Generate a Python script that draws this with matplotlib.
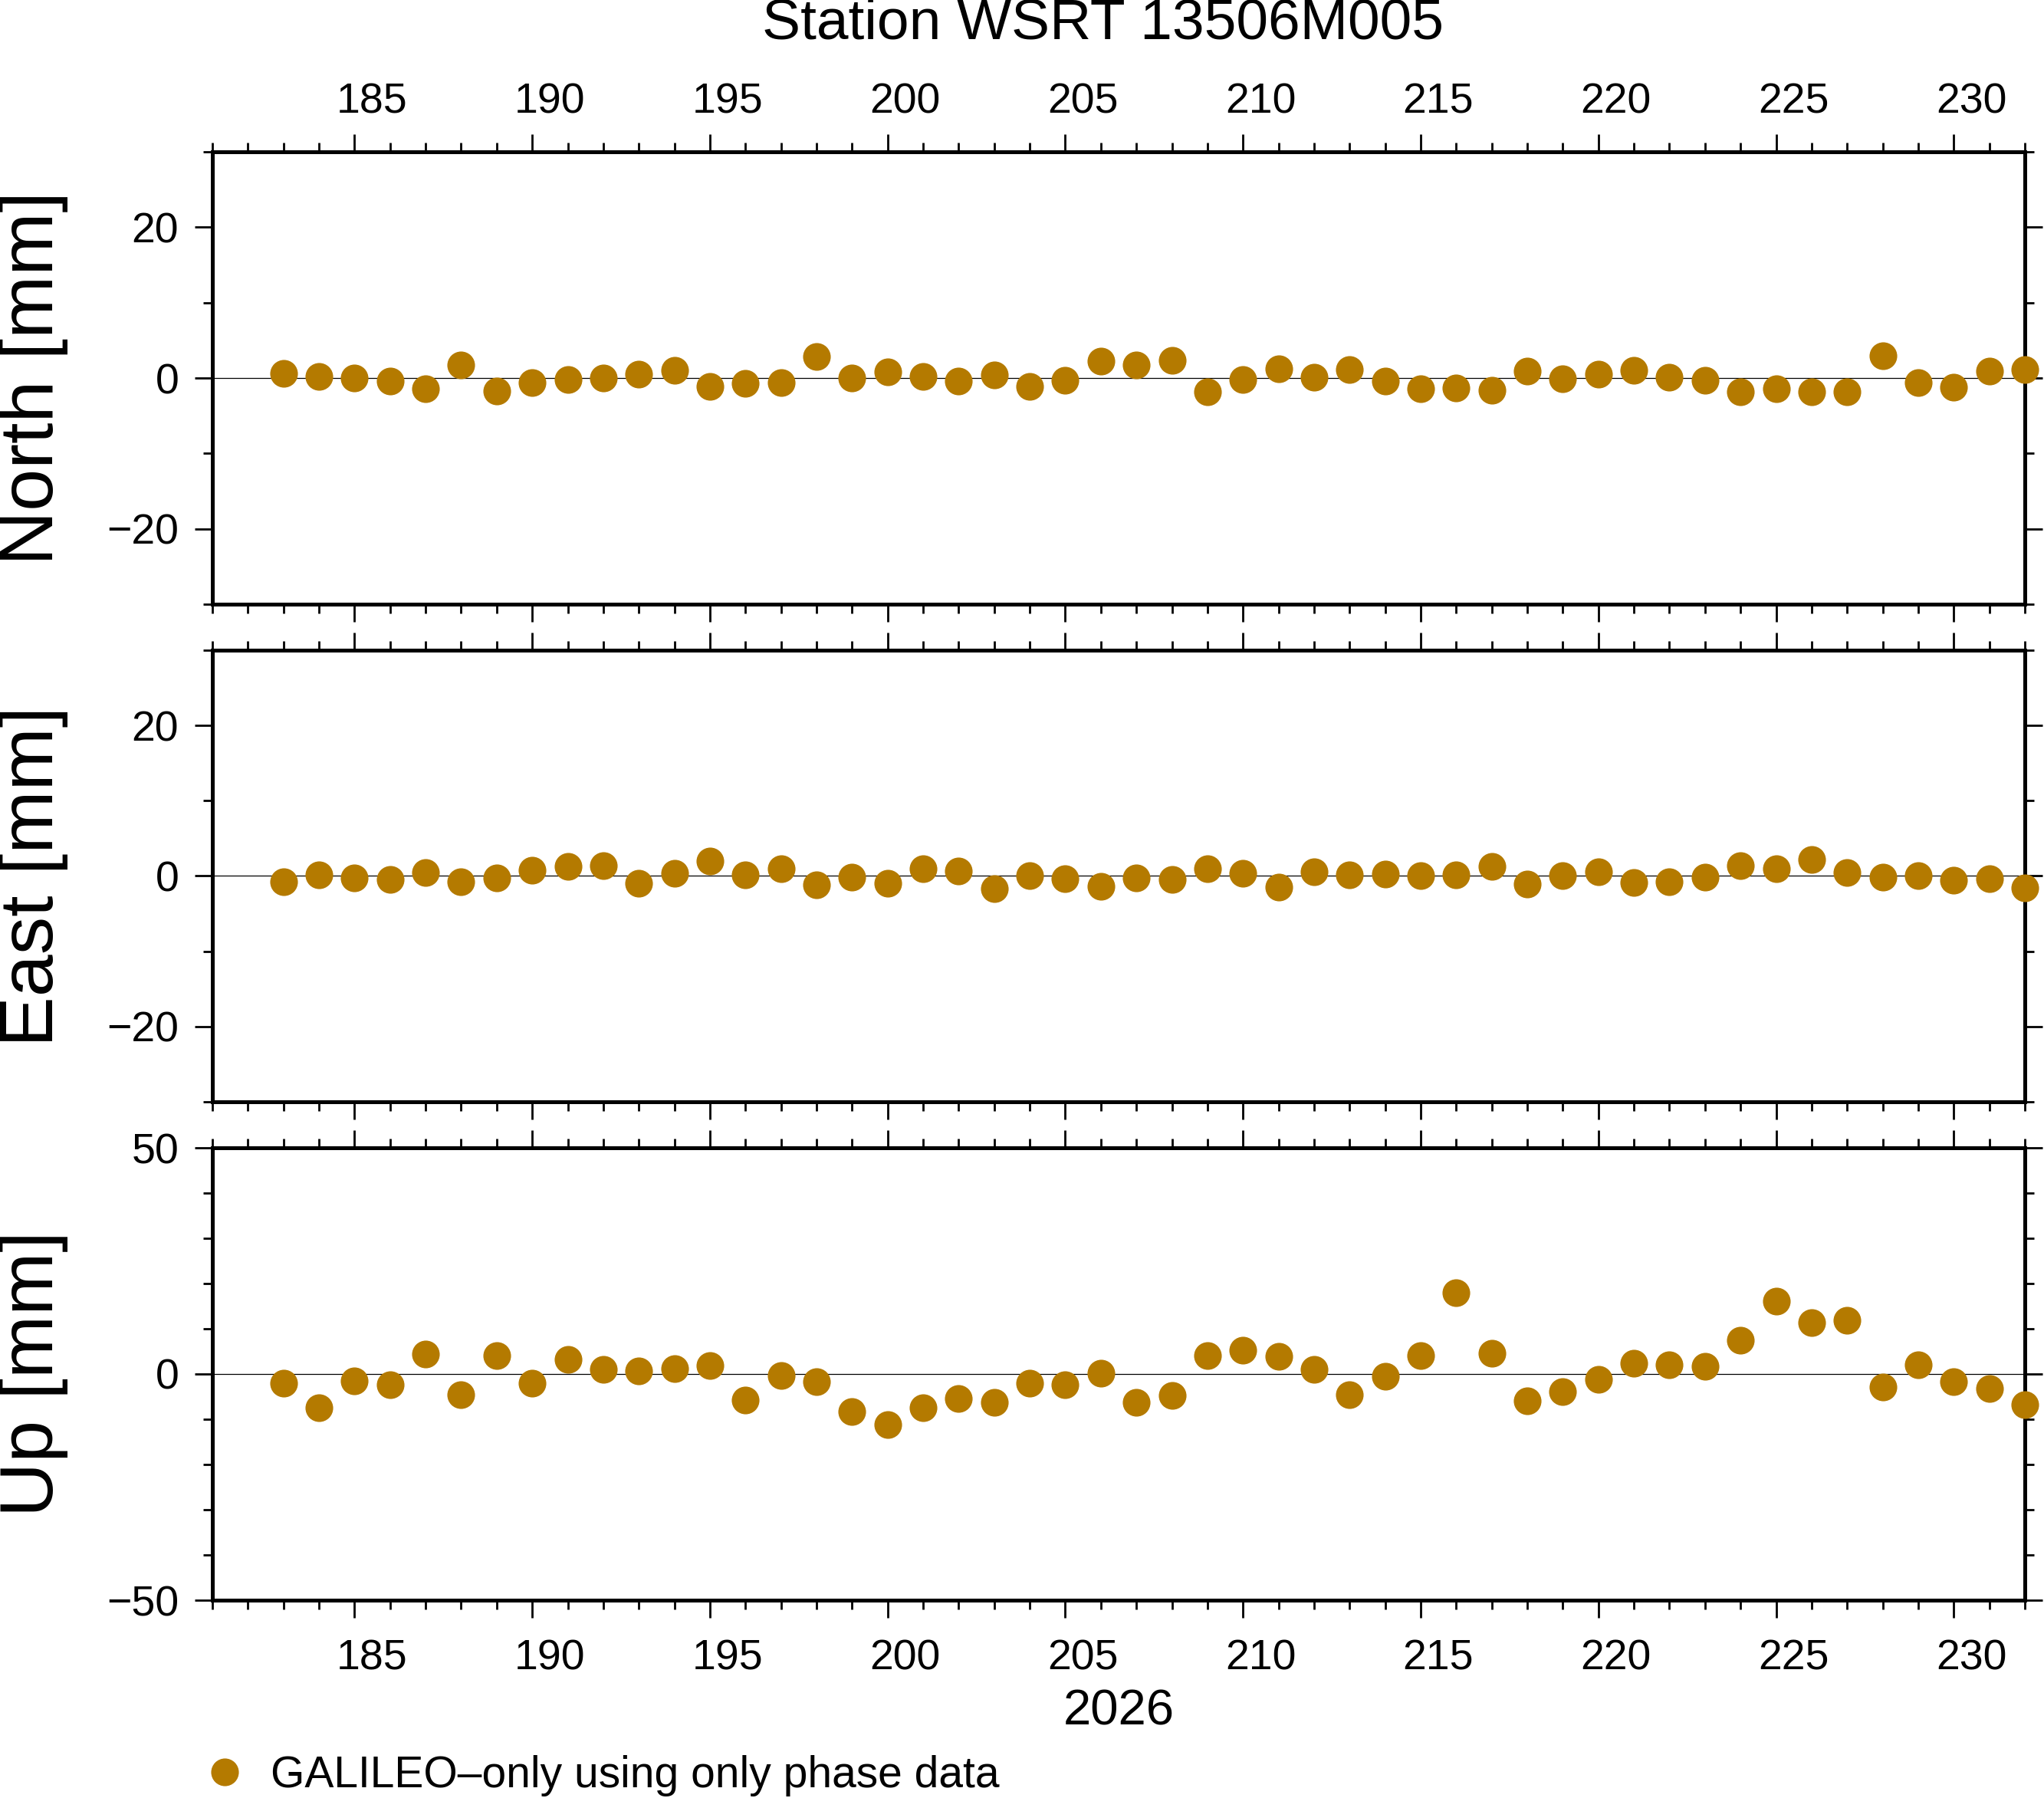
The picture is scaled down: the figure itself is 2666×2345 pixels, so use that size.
import numpy as np
import matplotlib
matplotlib.use("Agg")
import matplotlib.pyplot as plt
import matplotlib.transforms as mtransforms
from matplotlib.lines import Line2D
from matplotlib.ticker import MultipleLocator

plt.rcParams["font.family"] = ["Liberation Sans", "DejaVu Sans"]

# gün (day of year, 2026)
days = np.arange(183, 233)

north = [0.6, 0.2, 0.0, -0.4, -1.4, 1.7, -1.7, -0.6, -0.2, 0.0,
         0.5, 1.0, -1.1, -0.7, -0.6, 2.8, 0.0, 0.8, 0.2, -0.4,
         0.4, -1.1, -0.3, 2.2, 1.7, 2.3, -1.8, -0.2, 1.2, 0.1,
         1.1, -0.4, -1.4, -1.3, -1.6, 0.9, -0.1, 0.5, 1.0, 0.1,
         -0.3, -1.8, -1.4, -1.8, -1.8, 3.0, -0.6, -1.2, 0.9, 1.1]

east = [-0.8, 0.2, -0.3, -0.5, 0.5, -0.8, -0.3, 0.8, 1.3, 1.4,
        -1.0, 0.4, 2.0, 0.2, 1.0, -1.2, -0.2, -1.0, 1.0, 0.7,
        -1.7, 0.1, -0.4, -1.4, -0.3, -0.5, 1.0, 0.4, -1.5, 0.6,
        0.2, 0.3, 0.0, 0.2, 1.3, -1.1, 0.0, 0.6, -0.9, -0.8,
        -0.2, 1.4, 1.0, 2.2, 0.5, -0.2, 0.1, -0.6, -0.4, -1.6]

up = [-2.0, -7.4, -1.5, -2.3, 4.4, -4.6, 4.1, -2.0, 3.2, 1.0,
      0.7, 1.2, 1.9, -5.8, -0.3, -1.7, -8.3, -11.2, -7.4, -5.4,
      -6.2, -2.0, -2.3, 0.1, -6.2, -4.8, 4.1, 5.2, 3.9, 1.0,
      -4.6, -0.5, 4.1, 18.0, 4.6, -5.9, -3.9, -1.2, 2.3, 2.0,
      1.7, 7.4, 16.1, 11.3, 11.9, -2.9, 2.0, -1.7, -3.2, -6.8]

panels = [("North [mm]", north, 30, 20),
          ("East [mm]", east, 30, 20),
          ("Up [mm]", up, 50, 50)]

color = "#b47a00"
W, H = 2666, 2345
fig = plt.figure(figsize=(W / 100, H / 100), dpi=100)

tops = [198, 848, 1497]
bots = [788, 1437, 2087]
left, right = 277, 2641

# etiketler tick'in biraz sağında duruyor
shift_bot = mtransforms.ScaledTranslation(0.23, 0, fig.dpi_scale_trans)
shift_top = mtransforms.ScaledTranslation(0.23, -0.12, fig.dpi_scale_trans)

for i, (label, vals, lim, major) in enumerate(panels):
    ax = fig.add_axes([left / W, 1 - bots[i] / H, (right - left) / W, (bots[i] - tops[i]) / H])
    ax.axhline(0, color="black", lw=0.9, zorder=1)
    ax.plot(days, vals, "o", color=color, ms=26, mec="none", clip_on=False, zorder=3)
    ax.set_xlim(181, 232)
    ax.set_ylim(-lim, lim)
    ax.xaxis.set_major_locator(MultipleLocator(5))
    ax.xaxis.set_minor_locator(MultipleLocator(1))
    ax.yaxis.set_major_locator(MultipleLocator(major))
    ax.yaxis.set_minor_locator(MultipleLocator(10))
    for s in ax.spines.values():
        s.set_linewidth(3.6)
    ax.tick_params(which="both", direction="out", top=True, bottom=True, left=True, right=True,
                   labelleft=True, labeltop=(i == 0), labelbottom=(i == 2), labelsize=40)
    ax.tick_params(which="major", length=16.5, width=2, pad=15)
    ax.tick_params(axis="x", which="major", pad=20)
    ax.tick_params(which="minor", length=8.5, width=2)
    for t in ax.xaxis.get_major_ticks():
        t.label1.set_transform(t.label1.get_transform() + shift_bot)
        t.label2.set_transform(t.label2.get_transform() + shift_top)
    fig.text(44 / W, 1 - (tops[i] + bots[i]) / 2 / H, label, rotation=90,
             ha="center", va="center", fontsize=71)

fig.text(1438 / W, 1 - 31 / H, "Station WSRT 13506M005", ha="center", va="center", fontsize=54)
fig.text((left + right) / 2 / W, 1 - 2233 / H, "2026", ha="center", va="center", fontsize=47)

handle = Line2D([], [], marker="o", color=color, ls="none", ms=26, mec="none")
fig.legend(handles=[handle], labels=["GALILEO\u2013only using only phase data"],
           loc="center left", bbox_to_anchor=(265 / W, 1 - 2316 / H),
           frameon=False, fontsize=41, borderpad=0, borderaxespad=0,
           handlelength=1.0, handletextpad=0.55)

plt.savefig("out.png", dpi=100)
